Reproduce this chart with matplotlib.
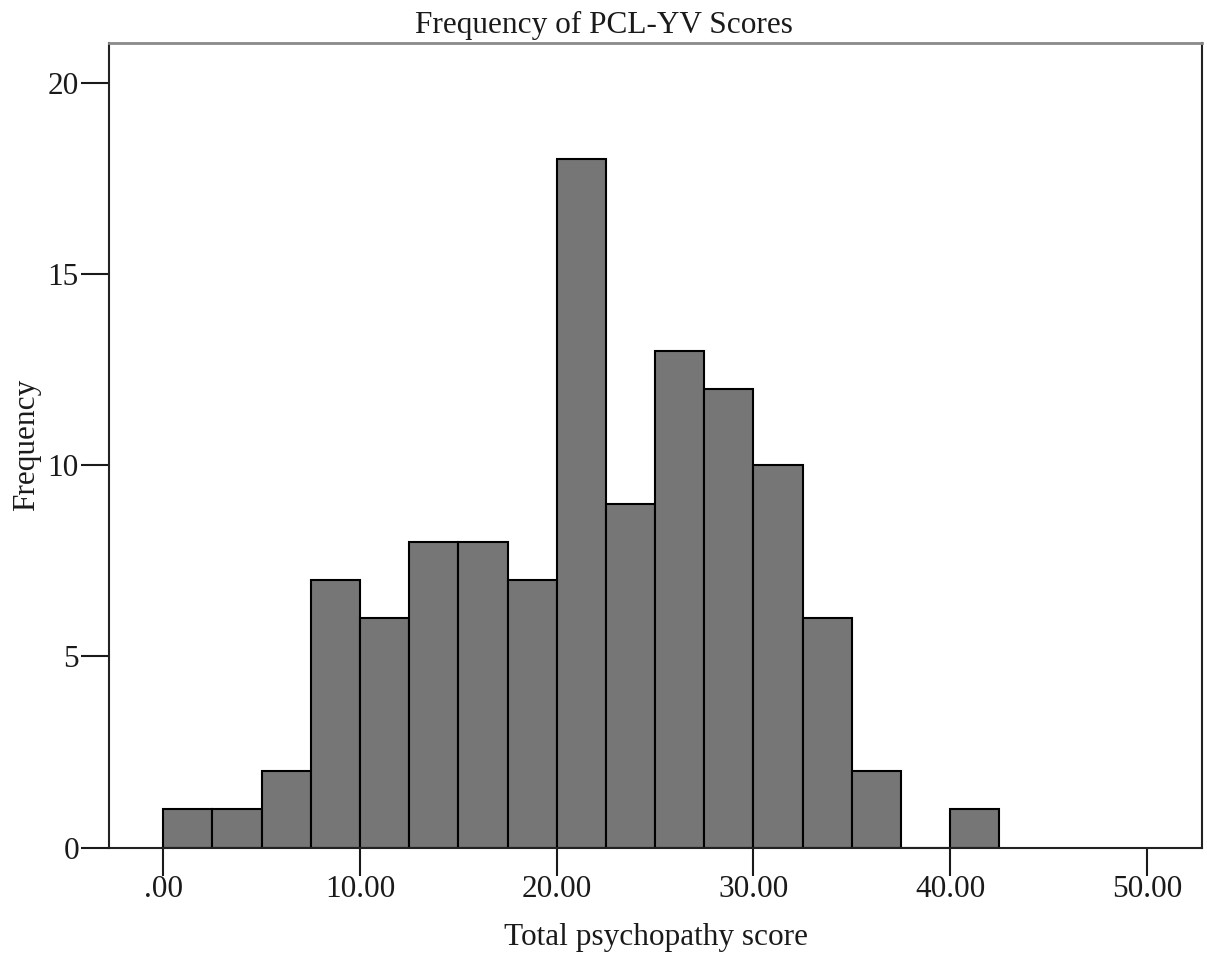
import matplotlib
matplotlib.use("Agg")
import matplotlib.pyplot as plt
import numpy as np

bin_edges = [0, 2.5, 5, 7.5, 10, 12.5, 15, 17.5, 20, 22.5, 25, 27.5, 30, 32.5, 35, 37.5, 40, 42.5]
counts = [1, 1, 2, 7, 6, 8, 8, 7, 18, 9, 13, 12, 10, 6, 2, 0, 1]
x_ticks = [0, 10, 20, 30, 40, 50]
x_tick_labels = [".00", "10.00", "20.00", "30.00", "40.00", "50.00"]
y_ticks = [0, 5, 10, 15, 20]

plt.rcParams['font.family'] = ['Liberation Serif', 'DejaVu Serif']

FS = 22.5
TXT = '#1a1a1a'

fig = plt.figure(figsize=(12.07, 9.61), dpi=100)
ax = fig.add_axes([0.0907, 0.1179, 0.9961 - 0.0907, 0.9556 - 0.1179])

lefts = np.array(bin_edges[:-1])
widths = np.diff(bin_edges)
ax.bar(lefts, counts, width=widths, align='edge', color='#767676',
       edgecolor='black', linewidth=1.5)

ax.set_xlim(-2.735, 52.82)
ax.set_ylim(0, 21.05)
ax.set_xticks(x_ticks)
ax.set_xticklabels(x_tick_labels)
ax.set_yticks(y_ticks)

ax.tick_params(axis='both', direction='out', length=20, width=1.5, labelsize=FS,
               colors=TXT)
ax.tick_params(axis='x', pad=0)
ax.tick_params(axis='y', pad=2)

for side in ['left', 'bottom', 'right']:
    ax.spines[side].set_color('#222222')
    ax.spines[side].set_linewidth(1.5)
ax.spines['top'].set_color('#8a8a8a')
ax.spines['top'].set_linewidth(2)

fig.text(0.5, 1 - 33 / 961, "Frequency of PCL-YV Scores", fontsize=FS, color=TXT,
         ha='center', va='baseline')

ax.set_xlabel("Total psychopathy score", fontsize=FS, color=TXT)
ax.xaxis.label.set_va('baseline')
ax.xaxis.set_label_coords(0.5, -0.1209)

ax.set_ylabel("Frequency", fontsize=FS, color=TXT)
ax.yaxis.label.set_va('center')
ax.yaxis.label.set_rotation_mode('default')
ax.yaxis.set_label_coords(-0.0755, 0.5)

fig.savefig("out.png", dpi=100)
